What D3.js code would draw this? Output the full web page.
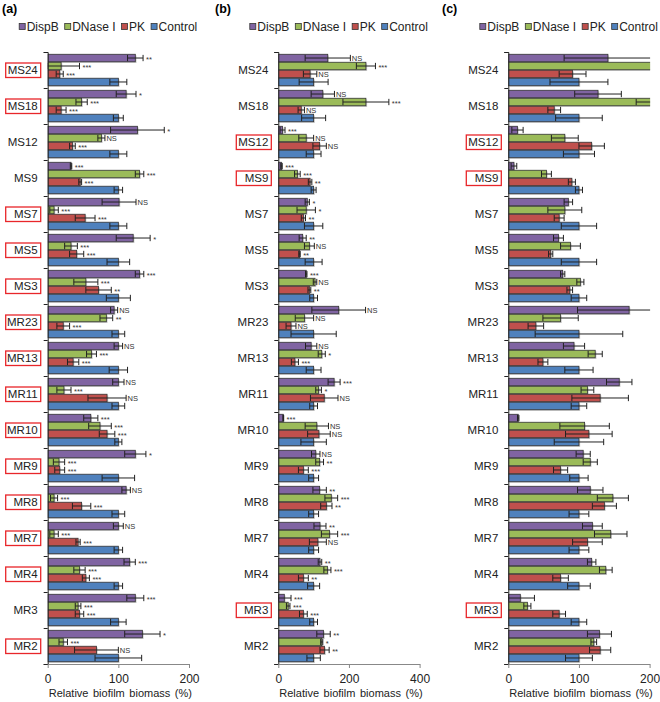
<!DOCTYPE html>
<html>
<head>
<meta charset="utf-8">
<script src="https://cdn.jsdelivr.net/npm/d3@7"></script>
<style>
body { margin: 0; background: #fff; }
svg text { font-family: "Liberation Sans", Arial, sans-serif; }
</style>
</head>
<body>
<div id="chart"></div>
<script>
'use strict';
// Strains (top to bottom) and treatments
const groups = ['MS24', 'MS18', 'MS12', 'MS9', 'MS7', 'MS5', 'MS3', 'MR23', 'MR13', 'MR11', 'MR10', 'MR9', 'MR8', 'MR7', 'MR4', 'MR3', 'MR2']
const series = ['DispB', 'DNase I', 'PK', 'Control']
const colors = ['#8064a2', '#9bbb59', '#c0504d', '#4f81bd']

// Panel (a)
const aDisp = [124, 111, 127, 33, 101, 121, 130, 94, 100, 100, 61, 124, 111, 100, 116, 124, 134]
const aDispErr = [11, 14, 38, 1, 24, 24, 6, 5, 6, 8, 10, 15, 6, 7, 8, 12, 25]
const aDispSig = ['**', '*', '*', '***', 'NS', '*', '***', 'NS', 'NS', 'NS', '***', '*', 'NS', 'NS', '***', '***', '*']
const aDnase = [19, 48, 76, 130, 9, 33, 54, 83, 62, 23, 74, 16, 9, 9, 45, 43, 22]
const aDnaseErr = [26, 8, 5, 6, 6, 9, 17, 9, 7, 10, 16, 8, 5, 6, 8, 4, 6]
const aDnaseSig = ['***', '***', 'NS', '***', '***', '***', '***', '**', '***', '***', '***', '***', '***', '***', '***', '***', '***']
const aPk = [17, 19, 35, 46, 53, 41, 72, 22, 36, 84, 84, 17, 48, 43, 54, 45, 69]
const aPkErr = [5, 7, 4, 2, 14, 10, 18, 9, 8, 27, 11, 7, 13, 3, 5, 6, 31]
const aPkSig = ['***', '***', '***', '***', '***', '***', '**', '***', '***', 'NS', '***', '***', '***', '***', '***', '***', 'NS']
const aCtrl = [100, 100, 100, 100, 100, 100, 100, 100, 100, 100, 100, 100, 100, 100, 100, 100, 100]
const aCtrlErr = [12, 7, 12, 6, 12, 16, 17, 9, 13, 9, 5, 23, 9, 6, 6, 11, 33]
const aBoxed = ['MS24', 'MS18', 'MS7', 'MS5', 'MS3', 'MR23', 'MR13', 'MR11', 'MR10', 'MR9', 'MR8', 'MR7', 'MR4', 'MR2']

// Panel (b)
const bDisp = [140, 126, 12, 9, 82, 69, 79, 171, 93, 158, 14, 106, 117, 118, 118, 17, 128]
const bDispErr = [64, 33, 7, 2, 6, 10, 2, 76, 16, 17, 1, 12, 19, 17, 5, 19, 19]
const bDispSig = ['NS', 'NS', '***', '***', '*', '**', '***', 'NS', 'NS', '***', '***', 'NS', '**', '**', '**', '***', '**']
const bDnase = [248, 248, 79, 54, 79, 88, 104, 74, 123, 114, 109, 117, 150, 145, 139, 28, 123]
const bDnaseErr = [27, 65, 21, 8, 26, 14, 5, 26, 10, 8, 33, 11, 18, 23, 10, 5, 3]
const bDnaseSig = ['***', '***', 'NS', '***', '*', 'NS', 'NS', 'NS', '*', '*', 'NS', '**', '***', '***', '***', '***', '*']
const bPk = [90, 65, 117, 90, 71, 60, 88, 36, 47, 130, 115, 71, 136, 112, 71, 71, 131]
const bPkErr = [19, 9, 19, 5, 6, 2, 4, 14, 10, 39, 32, 14, 16, 24, 14, 11, 13]
const bPkSig = ['NS', 'NS', 'NS', '**', '**', '**', '**', 'NS', '***', 'NS', 'NS', '***', '**', 'NS', '**', '***', '**']
const bCtrl = [100, 100, 100, 100, 100, 100, 100, 100, 100, 100, 100, 100, 100, 100, 100, 100, 100]
const bCtrlErr = [41, 34, 21, 7, 26, 24, 11, 64, 21, 11, 36, 14, 14, 14, 17, 11, 19]
const bBoxed = ['MS12', 'MS9', 'MR3']

// Panel (c)
const cDisp = [141, 127, 13, 8, 85, 71, 77, 171, 93, 157, 14, 106, 116, 119, 118, 17, 129]
const cDispErr = [62, 33, 8, 4, 6, 7, 3, 73, 15, 18, 1, 10, 18, 14, 6, 20, 17]
const cDnase = [248, 248, 80, 54, 80, 88, 102, 74, 123, 112, 108, 116, 148, 145, 138, 27, 121]
const cDnaseErr = [27, 67, 19, 7, 24, 14, 5, 25, 10, 9, 35, 10, 22, 23, 9, 5, 4]
const cPk = [91, 65, 118, 90, 72, 60, 87, 39, 49, 130, 114, 74, 136, 112, 74, 72, 130]
const cPkErr = [19, 9, 18, 5, 7, 3, 4, 11, 7, 40, 33, 10, 17, 21, 11, 9, 15]
const cCtrl = [100, 100, 100, 100, 100, 100, 100, 100, 100, 100, 100, 100, 100, 100, 100, 100, 100]
const cCtrlErr = [41, 33, 22, 5, 25, 25, 11, 62, 20, 11, 35, 13, 14, 14, 16, 11, 19]
const cBoxed = ['MS12', 'MS9', 'MR3']

const axisTitle = 'Relative biofilm biomass (%)'

// Layout
const W = 660, H = 702
const plotTop = 52, plotBottom = 664, plotW = 141.3

const panels = [
    { name: '(a)', labelX: 2, x0: 47.7, max: 200, ticks: [0, 100, 200],
      values: [aDisp, aDnase, aPk, aCtrl], errs: [aDispErr, aDnaseErr, aPkErr, aCtrlErr],
      sigs: [aDispSig, aDnaseSig, aPkSig, null], boxed: aBoxed },
    { name: '(b)', labelX: 215, x0: 278.3, max: 400, ticks: [0, 200, 400],
      values: [bDisp, bDnase, bPk, bCtrl], errs: [bDispErr, bDnaseErr, bPkErr, bCtrlErr],
      sigs: [bDispSig, bDnaseSig, bPkSig, null], boxed: bBoxed },
    { name: '(c)', labelX: 442, x0: 508.3, max: 200, ticks: [0, 100, 200],
      values: [cDisp, cDnase, cPk, cCtrl], errs: [cDispErr, cDnaseErr, cPkErr, cCtrlErr],
      sigs: [null, null, null, null], boxed: cBoxed }
]

const svg = d3.select('#chart').append('svg')
    .attr('width', W)
    .attr('height', H)

panels.forEach((p, pi) => {
    const x = d3.scaleLinear().domain([0, p.max]).range([p.x0, p.x0 + plotW])
    const y = d3.scaleBand().domain(groups).range([plotTop, plotBottom]).paddingInner(0.1).paddingOuter(0.05)
    const ys = d3.scaleBand().domain(series).range([0, y.bandwidth()]).padding(0.06)
    const yb = d3.scaleLinear().domain([0, groups.length]).range([plotTop, plotBottom])
    const g = svg.append('g')

    // Panel label
    g.append('text')
        .attr('x', p.labelX)
        .attr('y', 13)
        .attr('font-size', 12.5)
        .attr('font-weight', 'bold')
        .text(p.name)

    // Legend (laid out left to right)
    let lx = p.x0 - 28.5
    series.forEach((s, si) => {
        g.append('rect')
            .attr('x', lx)
            .attr('y', 23.5)
            .attr('width', 6)
            .attr('height', 6)
            .attr('fill', colors[si])
            .attr('stroke', '#333')
            .attr('stroke-width', 0.8)
        const t = g.append('text')
            .attr('x', lx + 7.5)
            .attr('y', 30.8)
            .attr('font-size', 12)
            .attr('fill', '#222')
            .text(s)
        lx += 7.5 + t.node().getComputedTextLength() + 6
    })

    // Clip to plot area
    const clipId = 'clip' + pi
    svg.append('clipPath').attr('id', clipId)
        .append('rect')
        .attr('x', p.x0)
        .attr('y', plotTop - 5)
        .attr('width', plotW + 0.5)
        .attr('height', plotBottom - plotTop + 10)
    const plot = g.append('g').attr('clip-path', `url(#${clipId})`)

    // Bars
    groups.forEach((grp, gi) => {
        series.forEach((s, si) => {
            const v = p.values[si][gi]
            const by = y(grp) + ys(s)
            const bh = ys.bandwidth()
            plot.append('rect')
                .attr('x', x(0) + 1.2)
                .attr('y', by + 1.2)
                .attr('width', x(v) - x(0))
                .attr('height', bh)
                .attr('fill', '#9a9a9a')
                .attr('opacity', 0.55)
            plot.append('rect')
                .attr('x', x(0))
                .attr('y', by)
                .attr('width', x(v) - x(0))
                .attr('height', bh)
                .attr('fill', colors[si])
                .attr('stroke', '#333')
                .attr('stroke-width', 0.8)
        })
    })

    // Error bars
    groups.forEach((grp, gi) => {
        series.forEach((s, si) => {
            const v = p.values[si][gi]
            const e = p.errs[si][gi]
            const cy = y(grp) + ys(s) + ys.bandwidth() / 2
            const x1 = x(Math.max(0, v - e)), x2 = x(v + e)
            const cap = ys.bandwidth() * 0.42
            plot.append('line')
                .attr('x1', x1).attr('x2', x2)
                .attr('y1', cy).attr('y2', cy)
                .attr('stroke', '#222').attr('stroke-width', 1)
            ;[x1, x2].forEach(cx => {
                plot.append('line')
                    .attr('x1', cx).attr('x2', cx)
                    .attr('y1', cy - cap).attr('y2', cy + cap)
                    .attr('stroke', '#222').attr('stroke-width', 1)
            })
            // Significance
            const sig = p.sigs[si] ? p.sigs[si][gi] : null
            if (sig) {
                const isNS = sig === 'NS'
                g.append('text')
                    .attr('x', x2 + (isNS ? 1.5 : 3))
                    .attr('y', cy + (isNS ? 2.6 : 4.2))
                    .attr('font-size', 7.5)
                    .attr('fill', '#333')
                    .text(sig)
            }
        })
    })

    // Y axis with ticks at group boundaries
    const yAxis = g.append('g')
        .attr('transform', `translate(${p.x0},0)`)
        .call(d3.axisLeft(yb).tickValues(d3.range(groups.length + 1)).tickSize(4).tickFormat(''))
    yAxis.select('.domain').attr('stroke', '#222')
    yAxis.selectAll('.tick line').attr('stroke', '#222')

    // X axis
    const xAxis = g.append('g')
        .attr('transform', `translate(0,${plotBottom})`)
        .call(d3.axisBottom(x).tickValues(p.ticks).tickSize(4).tickSizeOuter(0).tickPadding(6))
    xAxis.select('.domain').attr('stroke', '#888')
    xAxis.selectAll('.tick line').attr('stroke', '#888')
    xAxis.selectAll('.tick text')
        .attr('font-size', 12)
        .attr('fill', '#222')
        .attr('font-family', '"Liberation Sans", Arial, sans-serif')

    // Axis title
    g.append('text')
        .attr('x', p.x0 + plotW / 2 + 2)
        .attr('y', 697)
        .attr('text-anchor', 'middle')
        .attr('font-size', 11)
        .attr('fill', '#222')
        .attr('word-spacing', 1.5)
        .text(axisTitle)

    // Group labels
    groups.forEach(grp => {
        const cy = y(grp) + y.bandwidth() / 2
        if (p.boxed.includes(grp)) {
            g.append('rect')
                .attr('x', p.x0 - 42)
                .attr('y', cy - 7)
                .attr('width', 35)
                .attr('height', 14.5)
                .attr('fill', 'none')
                .attr('stroke', '#e8262a')
                .attr('stroke-width', 1.3)
        }
        g.append('text')
            .attr('x', p.x0 - 10)
            .attr('y', cy)
            .attr('dy', '0.36em')
            .attr('text-anchor', 'end')
            .attr('font-size', 11.5)
            .attr('fill', '#222')
            .text(grp)
    })
})
</script>
</body>
</html>
